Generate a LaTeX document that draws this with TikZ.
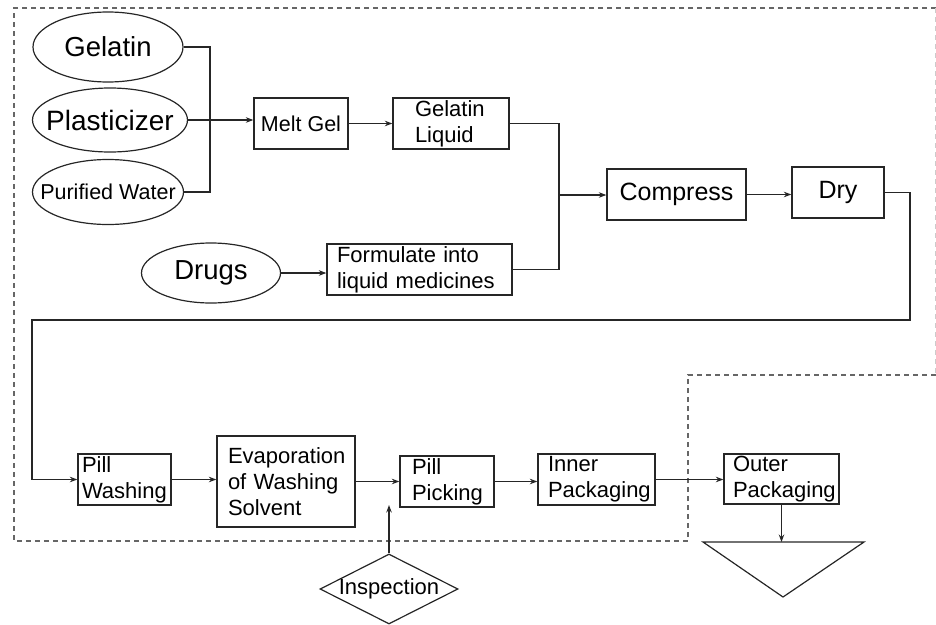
\documentclass[tikz,border=0pt]{standalone}
\usepackage{fontspec}
\setmainfont{Liberation Sans}
\usetikzlibrary{shapes.geometric,arrows.meta}
\tikzset{
  ell/.style={ellipse, draw=black!85, line width=1.2pt, inner sep=0pt},
  box/.style={rectangle, draw=black!85, line width=1.3pt, inner sep=0pt},
  lbox/.style={box, align=left, font=\fontsize{22}{26}\selectfont},
  conn/.style={draw=black!85, line width=1.2pt},
  arr/.style={conn, -{Stealth[length=7.5pt,width=5.5pt]}},
  dashborder/.style={draw=black!60, line width=1.2pt, dash pattern=on 5pt off 4pt},
}
\begin{document}
\begin{tikzpicture}[x=1pt,y=-1pt]
\useasboundingbox (0,0) rectangle (936,624);

% dashed boundaries
\draw[dashborder] (936,8) -- (14,8) -- (14,541) -- (688,541) -- (688,375) -- (936,375);
\draw[dashborder, draw=black!20, line width=0.8pt] (935,8) -- (935,375);

% inputs
\node[ell, minimum width=150pt, minimum height=70pt, font=\fontsize{27.5}{30}\selectfont] (gel) at (108,47) {\makebox[0pt]{Gelatin}};
\node[ell, minimum width=155pt, minimum height=64pt, font=\fontsize{28}{30}\selectfont] (pl) at (110,120) {\makebox[0pt]{Plasticizer}};
\node[ell, minimum width=151pt, minimum height=65pt, font=\fontsize{21.5}{26}\selectfont] (pw) at (108,192) {\makebox[0pt]{Purified Water}};
\node[ell, minimum width=139pt, minimum height=60pt, font=\fontsize{27.5}{30}\selectfont] (drugs) at (211,273) {\makebox[0pt]{Drugs}};

% process boxes
\node[box, minimum width=94pt, minimum height=51pt, font=\fontsize{21.5}{26}\selectfont] (melt) at (301,123.5) {Melt Gel};
\node[lbox, minimum height=51pt, text width=72pt, inner xsep=22pt] (gl) at (451,123.5) {Gelatin\\Liquid};
\node[lbox, minimum height=51pt, text width=165pt, inner xsep=10pt] (form) at (419.5,269.5) {Formulate into\\liquid medicines};
\node[box, minimum width=139pt, minimum height=51pt, font=\fontsize{25}{30}\selectfont] (comp) at (676.5,194.5) {Compress};
\node[box, minimum width=92pt, minimum height=51pt, font=\fontsize{25}{30}\selectfont] (dry) at (838,192.5) {Dry};

\node[lbox, minimum height=51pt, text width=85pt, inner xsep=4pt] (pwash) at (124.5,479.5) {Pill\\Washing};
\node[lbox, minimum height=91pt, text width=116pt, inner xsep=11pt] (evap) at (286,481.5) {Evaporation\\of Washing\\Solvent};
\node[lbox, minimum height=51pt, text width=70pt, inner xsep=12pt] (pick) at (447,481.5) {Pill\\Picking};
\node[lbox, minimum height=51pt, text width=97pt, inner xsep=10pt] (inner) at (596.5,479.5) {Inner\\Packaging};
\node[lbox, minimum height=50pt, text width=97pt, inner xsep=9pt] (outer) at (781.5,479) {Outer\\Packaging};

\node[diamond, draw=black!85, line width=1.2pt, inner sep=0pt, minimum width=138pt, minimum height=70pt, font=\fontsize{22}{26}\selectfont] (insp) at (389,589) {\makebox[0pt]{Inspection}};

% triangle (storage)
\coordinate (tl) at (703,542);
\coordinate (tr) at (864,542);
\coordinate (tb) at (783,597);
\draw[draw=black!85, line width=1.2pt] (tl) -- (tr) -- (tb) -- cycle;

% connectors
\coordinate (j1) at (210,120);
\draw[conn] (gel.east) -| (j1);
\draw[conn] (pw.east) -| (j1);
\draw[arr] (pl.east) -- (pl.east -| melt.west);
\draw[arr] (melt.east) -- (gl.west);
\draw[arr] (drugs.east) -- (drugs.east -| form.west);

\coordinate (j2) at (559,195);
\draw[conn] (gl.east) -| (j2);
\draw[conn] (form.east) -| (j2);
\draw[arr] (j2) -- (j2 -| comp.west);
\draw[arr] (comp.east) -- (comp.east -| dry.west);

\coordinate (c1) at (910,320);
\coordinate (c2) at (32,320);
\draw[arr] (dry.east) -| (c1) -- (c2) |- (pwash.west);

\draw[arr] (pwash.east) -- (pwash.east -| evap.west);
\draw[arr] (evap.east) -- (evap.east -| pick.west);
\draw[arr] (pick.east) -- (pick.east -| inner.west);
\draw[arr] (inner.east) -- (inner.east -| outer.west);
\draw[arr] (outer.south) -- (outer.south |- tl);

\coordinate (ip) at (389,505);
\draw[arr] (insp.north) -- (ip);
\end{tikzpicture}
\end{document}
